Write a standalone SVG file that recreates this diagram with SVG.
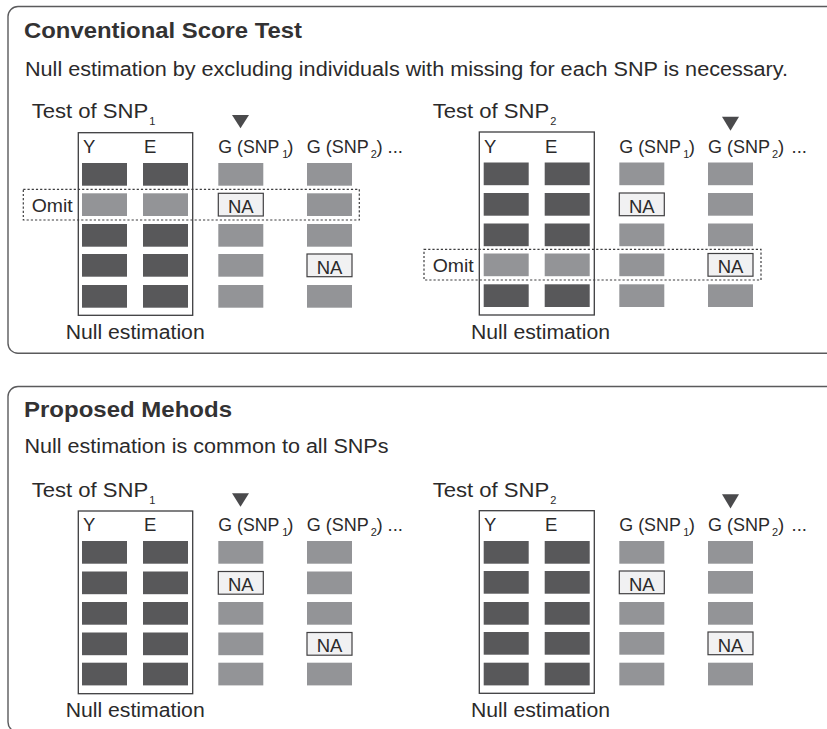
<svg xmlns="http://www.w3.org/2000/svg" xmlns:xlink="http://www.w3.org/1999/xlink" width="827" height="729" viewBox="0 0 827 729">
  <style>
    .frame { fill: none; stroke: #5a5a5c; stroke-width: 1.4; }
    .box { fill: none; stroke: #3d3d3f; stroke-width: 1.3; }
    .omit { fill: none; stroke: #3d3d3f; stroke-width: 1.2; stroke-dasharray: 2.2 2; }
    .dk { fill: #58585a; }
    .lt { fill: #939497; }
    .na { fill: #f1f1f2; stroke: #414042; stroke-width: 1.2; }
    .tri { fill: #4a4a4c; }
    text { font-family: "Liberation Sans", Arial, Helvetica, sans-serif; fill: #2b2a2b; }
    .title { font-size: 22px; font-weight: bold; fill: #333233; }
    .body { font-size: 19.5px; }
    .lab { font-size: 18.5px; }
    .big { font-size: 20px; }
    .sub { font-size: 11px; }
    .natext { font-size: 18.5px; text-anchor: middle; }
  </style>

  <!-- Panel frames (open on the right) -->
  <g id="frames">
    <path class="frame" d="M 830 6.5 H 18 A 10 10 0 0 0 8 16.5 V 343.3 A 10 10 0 0 0 18 353.3 H 830"/>
    <path class="frame" d="M 830 386.5 H 18 A 10 10 0 0 0 8 396.5 V 722 A 10 10 0 0 0 18 732 H 830"/>
  </g>

  <!-- Upper panel: conventional score test -->
  <g id="panel-conventional">
    <text class="title" x="24" y="37.8" textLength="278" lengthAdjust="spacingAndGlyphs">Conventional Score Test</text>
    <text class="body" x="25" y="75.5" textLength="763" lengthAdjust="spacingAndGlyphs">Null estimation by excluding individuals with missing for each SNP is necessary.</text>

    <!-- Test of SNP1 -->
    <g id="conv-snp1">
      <text class="body" x="31.7" y="118.3" textLength="116.6" lengthAdjust="spacingAndGlyphs">Test of SNP</text>
      <text class="sub" x="149.3" y="125">1</text>
      <polygon class="tri" points="232,115 249,115 240.5,128.3"/>
      <text class="lab" x="218.3" y="152.7" textLength="61" lengthAdjust="spacingAndGlyphs">G (SNP</text>
      <text class="sub" x="282.3" y="157.8">1</text>
      <text class="lab" x="287.3" y="152.7">)</text>
      <text class="lab" x="306.7" y="152.7" textLength="62" lengthAdjust="spacingAndGlyphs">G (SNP</text>
      <text class="sub" x="370.8" y="157.8">2</text>
      <text class="lab" x="376.5" y="152.7">)</text>
      <text class="lab" x="387.5" y="152.7">...</text>

      <rect class="box" x="78.3" y="132.7" width="114.4" height="182.6"/>
      <text class="lab" x="83" y="152.7">Y</text>
      <text class="lab" x="144" y="152.7">E</text>
      <!-- Y / E -->
      <rect class="dk" x="82" y="163" width="45" height="22.7"/>
      <rect class="dk" x="143" y="163" width="45" height="22.7"/>
      <rect class="lt" x="82" y="193.3" width="45" height="22.7"/>
      <rect class="lt" x="143" y="193.3" width="45" height="22.7"/>
      <rect class="dk" x="82" y="224" width="45" height="22.7"/>
      <rect class="dk" x="143" y="224" width="45" height="22.7"/>
      <rect class="dk" x="82" y="254" width="45" height="22.7"/>
      <rect class="dk" x="143" y="254" width="45" height="22.7"/>
      <rect class="dk" x="82" y="285" width="45" height="22.7"/>
      <rect class="dk" x="143" y="285" width="45" height="22.7"/>
      <!-- G (SNP1) -->
      <rect class="lt" x="218.3" y="163" width="45" height="22.7"/>
      <rect class="na" x="218.3" y="193.3" width="45" height="22.7"/>
      <text class="natext" x="240.8" y="212.8">NA</text>
      <rect class="lt" x="218.3" y="224" width="45" height="22.7"/>
      <rect class="lt" x="218.3" y="254" width="45" height="22.7"/>
      <rect class="lt" x="218.3" y="285" width="45" height="22.7"/>
      <!-- G (SNP2) -->
      <rect class="lt" x="307" y="163" width="45" height="22.7"/>
      <rect class="lt" x="307" y="193.3" width="45" height="22.7"/>
      <rect class="lt" x="307" y="224" width="45" height="22.7"/>
      <rect class="na" x="307" y="254" width="45" height="22.7"/>
      <text class="natext" x="329.5" y="273.5">NA</text>
      <rect class="lt" x="307" y="285" width="45" height="22.7"/>

      <rect class="omit" x="23.3" y="189.3" width="336" height="30.7"/>
      <text class="lab" x="31.7" y="211.7" textLength="41" lengthAdjust="spacingAndGlyphs">Omit</text>
      <text class="big" x="65.7" y="339.3" textLength="139" lengthAdjust="spacingAndGlyphs">Null estimation</text>
    </g>

    <!-- Test of SNP2 -->
    <g id="conv-snp2">
      <text class="body" x="432.7" y="118.3" textLength="116.6" lengthAdjust="spacingAndGlyphs">Test of SNP</text>
      <text class="sub" x="550.3" y="125">2</text>
      <polygon class="tri" points="722,116.7 739,116.7 730.5,130.7"/>
      <text class="lab" x="619.3" y="152.7" textLength="61.5" lengthAdjust="spacingAndGlyphs">G (SNP</text>
      <text class="sub" x="683.3" y="157.8">1</text>
      <text class="lab" x="688.8" y="152.7">)</text>
      <text class="lab" x="708" y="152.7" textLength="62" lengthAdjust="spacingAndGlyphs">G (SNP</text>
      <text class="sub" x="772" y="157.8">2</text>
      <text class="lab" x="778" y="152.7">)</text>
      <text class="lab" x="791.5" y="152.7">...</text>

      <rect class="box" x="479.3" y="132" width="115" height="183"/>
      <text class="lab" x="484" y="152.7">Y</text>
      <text class="lab" x="545" y="152.7">E</text>
      <!-- Y / E -->
      <rect class="dk" x="483.7" y="162.5" width="45" height="22.7"/>
      <rect class="dk" x="544.7" y="162.5" width="45" height="22.7"/>
      <rect class="dk" x="483.7" y="193" width="45" height="22.7"/>
      <rect class="dk" x="544.7" y="193" width="45" height="22.7"/>
      <rect class="dk" x="483.7" y="223.5" width="45" height="22.7"/>
      <rect class="dk" x="544.7" y="223.5" width="45" height="22.7"/>
      <rect class="lt" x="483.7" y="253.5" width="45" height="22.7"/>
      <rect class="lt" x="544.7" y="253.5" width="45" height="22.7"/>
      <rect class="dk" x="483.7" y="284.3" width="45" height="22.7"/>
      <rect class="dk" x="544.7" y="284.3" width="45" height="22.7"/>
      <!-- G (SNP1) -->
      <rect class="lt" x="619.3" y="162.5" width="45" height="22.7"/>
      <rect class="na" x="619.3" y="193" width="45" height="22.7"/>
      <text class="natext" x="641.8" y="212.5">NA</text>
      <rect class="lt" x="619.3" y="223.5" width="45" height="22.7"/>
      <rect class="lt" x="619.3" y="253.5" width="45" height="22.7"/>
      <rect class="lt" x="619.3" y="284.3" width="45" height="22.7"/>
      <!-- G (SNP2) -->
      <rect class="lt" x="708" y="162.5" width="45" height="22.7"/>
      <rect class="lt" x="708" y="193" width="45" height="22.7"/>
      <rect class="lt" x="708" y="223.5" width="45" height="22.7"/>
      <rect class="na" x="708" y="253.5" width="45" height="22.7"/>
      <text class="natext" x="730.5" y="273">NA</text>
      <rect class="lt" x="708" y="284.3" width="45" height="22.7"/>

      <rect class="omit" x="424" y="249.3" width="337" height="30.7"/>
      <text class="lab" x="432.7" y="271.7" textLength="41" lengthAdjust="spacingAndGlyphs">Omit</text>
      <text class="big" x="471" y="339.3" textLength="139" lengthAdjust="spacingAndGlyphs">Null estimation</text>
    </g>
  </g>

  <!-- Lower panel: proposed method -->
  <g id="panel-proposed">
    <text class="title" x="24" y="416.8" textLength="208" lengthAdjust="spacingAndGlyphs">Proposed Mehods</text>
    <text class="body" x="24.5" y="453" textLength="364" lengthAdjust="spacingAndGlyphs">Null estimation is common to all SNPs</text>

    <!-- Test of SNP1 -->
    <g id="prop-snp1">
      <text class="body" x="31.7" y="496.8" textLength="116.6" lengthAdjust="spacingAndGlyphs">Test of SNP</text>
      <text class="sub" x="149.3" y="503.5">1</text>
      <polygon class="tri" points="232,493.3 249,493.3 240.5,506.7"/>
      <text class="lab" x="218.3" y="530.5" textLength="61" lengthAdjust="spacingAndGlyphs">G (SNP</text>
      <text class="sub" x="282.3" y="535.6">1</text>
      <text class="lab" x="287.3" y="530.5">)</text>
      <text class="lab" x="306.7" y="530.5" textLength="62" lengthAdjust="spacingAndGlyphs">G (SNP</text>
      <text class="sub" x="370.8" y="535.6">2</text>
      <text class="lab" x="376.5" y="530.5">)</text>
      <text class="lab" x="387.5" y="530.5">...</text>

      <rect class="box" x="78.3" y="511" width="114.4" height="182.7"/>
      <text class="lab" x="83" y="530.5">Y</text>
      <text class="lab" x="144" y="530.5">E</text>
      <!-- Y / E -->
      <rect class="dk" x="82" y="541" width="45" height="22.7"/>
      <rect class="dk" x="143" y="541" width="45" height="22.7"/>
      <rect class="dk" x="82" y="571.5" width="45" height="22.7"/>
      <rect class="dk" x="143" y="571.5" width="45" height="22.7"/>
      <rect class="dk" x="82" y="602" width="45" height="22.7"/>
      <rect class="dk" x="143" y="602" width="45" height="22.7"/>
      <rect class="dk" x="82" y="632.5" width="45" height="22.7"/>
      <rect class="dk" x="143" y="632.5" width="45" height="22.7"/>
      <rect class="dk" x="82" y="662.7" width="45" height="22.7"/>
      <rect class="dk" x="143" y="662.7" width="45" height="22.7"/>
      <!-- G (SNP1) -->
      <rect class="lt" x="218.3" y="541" width="45" height="22.7"/>
      <rect class="na" x="218.3" y="571.5" width="45" height="22.7"/>
      <text class="natext" x="240.8" y="591">NA</text>
      <rect class="lt" x="218.3" y="602" width="45" height="22.7"/>
      <rect class="lt" x="218.3" y="632.5" width="45" height="22.7"/>
      <rect class="lt" x="218.3" y="662.7" width="45" height="22.7"/>
      <!-- G (SNP2) -->
      <rect class="lt" x="307" y="541" width="45" height="22.7"/>
      <rect class="lt" x="307" y="571.5" width="45" height="22.7"/>
      <rect class="lt" x="307" y="602" width="45" height="22.7"/>
      <rect class="na" x="307" y="632.5" width="45" height="22.7"/>
      <text class="natext" x="329.5" y="652">NA</text>
      <rect class="lt" x="307" y="662.7" width="45" height="22.7"/>

      <text class="big" x="65.7" y="717.3" textLength="139" lengthAdjust="spacingAndGlyphs">Null estimation</text>
    </g>

    <!-- Test of SNP2 -->
    <g id="prop-snp2">
      <text class="body" x="432.7" y="496.8" textLength="116.6" lengthAdjust="spacingAndGlyphs">Test of SNP</text>
      <text class="sub" x="550.3" y="503.5">2</text>
      <polygon class="tri" points="722,494.3 739,494.3 730.5,508.5"/>
      <text class="lab" x="619.3" y="530.5" textLength="61.5" lengthAdjust="spacingAndGlyphs">G (SNP</text>
      <text class="sub" x="683.3" y="535.6">1</text>
      <text class="lab" x="688.8" y="530.5">)</text>
      <text class="lab" x="708" y="530.5" textLength="62" lengthAdjust="spacingAndGlyphs">G (SNP</text>
      <text class="sub" x="772" y="535.6">2</text>
      <text class="lab" x="778" y="530.5">)</text>
      <text class="lab" x="791.5" y="530.5">...</text>

      <rect class="box" x="479.3" y="510.7" width="115" height="182.6"/>
      <text class="lab" x="484" y="530.5">Y</text>
      <text class="lab" x="545" y="530.5">E</text>
      <!-- Y / E -->
      <rect class="dk" x="483.7" y="541" width="45" height="22.7"/>
      <rect class="dk" x="544.7" y="541" width="45" height="22.7"/>
      <rect class="dk" x="483.7" y="571" width="45" height="22.7"/>
      <rect class="dk" x="544.7" y="571" width="45" height="22.7"/>
      <rect class="dk" x="483.7" y="602" width="45" height="22.7"/>
      <rect class="dk" x="544.7" y="602" width="45" height="22.7"/>
      <rect class="dk" x="483.7" y="632" width="45" height="22.7"/>
      <rect class="dk" x="544.7" y="632" width="45" height="22.7"/>
      <rect class="dk" x="483.7" y="662.7" width="45" height="22.7"/>
      <rect class="dk" x="544.7" y="662.7" width="45" height="22.7"/>
      <!-- G (SNP1) -->
      <rect class="lt" x="619.3" y="541" width="45" height="22.7"/>
      <rect class="na" x="619.3" y="571" width="45" height="22.7"/>
      <text class="natext" x="641.8" y="590.5">NA</text>
      <rect class="lt" x="619.3" y="602" width="45" height="22.7"/>
      <rect class="lt" x="619.3" y="632" width="45" height="22.7"/>
      <rect class="lt" x="619.3" y="662.7" width="45" height="22.7"/>
      <!-- G (SNP2) -->
      <rect class="lt" x="708" y="541" width="45" height="22.7"/>
      <rect class="lt" x="708" y="571" width="45" height="22.7"/>
      <rect class="lt" x="708" y="602" width="45" height="22.7"/>
      <rect class="na" x="708" y="632" width="45" height="22.7"/>
      <text class="natext" x="730.5" y="651.5">NA</text>
      <rect class="lt" x="708" y="662.7" width="45" height="22.7"/>

      <text class="big" x="471" y="717.3" textLength="139" lengthAdjust="spacingAndGlyphs">Null estimation</text>
    </g>
  </g>

  <!-- no connectors in this figure -->
  <g id="connectors"/>
</svg>
